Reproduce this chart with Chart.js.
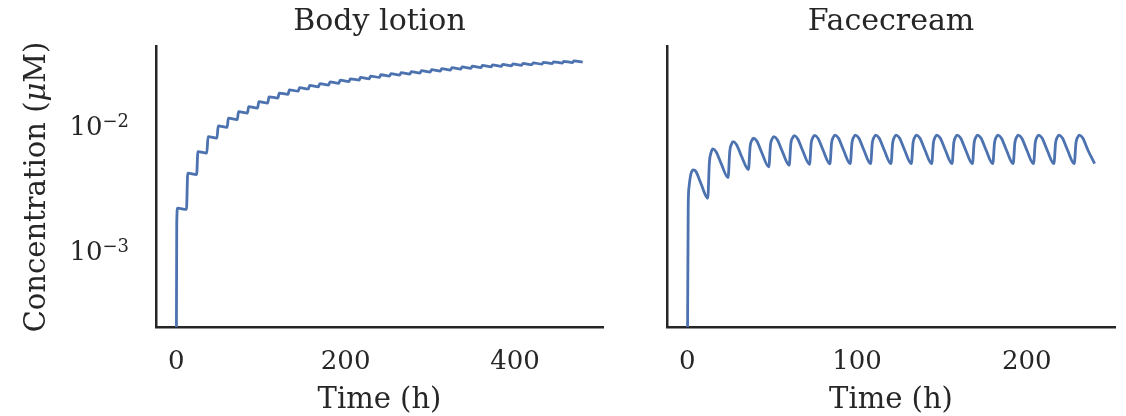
<!DOCTYPE html>
<html>
<head>
<meta charset="utf-8">
<script src="https://cdn.jsdelivr.net/npm/chart.js@4.4.0/dist/chart.umd.min.js"></script>
<style>
  html, body { margin: 0; padding: 0; background: #fff; }
  #wrap { position: relative; width: 1126px; height: 416px; }
  #wrap canvas { position: absolute; left: 0; top: 0; }
</style>
</head>
<body>
<div id="wrap">
  <canvas id="lotion" width="1126" height="416"></canvas>
  <canvas id="cream" width="1126" height="416"></canvas>
</div>
<script>
// ===== DATA =====
const bodyTime = [0, 0.5, 1.5, 12, 13.5, 24, 25.5, 36, 37.5, 48, 49.5, 60, 61.5, 72, 73.5, 84, 85.5,
  96, 97.5, 108, 109.5, 120, 121.5, 132, 133.5, 144, 145.5, 156, 157.5, 168, 169.5, 180, 181.5,
  192, 193.5, 204, 205.5, 216, 217.5, 228, 229.5, 240, 241.5, 252, 253.5, 264, 265.5, 276, 277.5,
  288, 289.5, 300, 301.5, 312, 313.5, 324, 325.5, 336, 337.5, 348, 349.5, 360, 361.5, 372, 373.5,
  384, 385.5, 396, 397.5, 408, 409.5, 420, 421.5, 432, 433.5, 444, 445.5, 456, 457.5, 468, 469.5, 480];
const bodyConc = [0.0001, 0.0016, 0.00216, 0.00211, 0.00411, 0.00401, 0.00611, 0.00596, 0.00806,
  0.00786, 0.00982, 0.00957, 0.01132, 0.01104, 0.01277, 0.01245, 0.0140, 0.01365, 0.01535,
  0.01497, 0.0168, 0.01638, 0.0180, 0.01755, 0.0191, 0.01862, 0.0199, 0.0194, 0.0207,
  0.02018, 0.0214, 0.02087, 0.0221, 0.02155, 0.0228, 0.02223, 0.0234, 0.02282, 0.0240,
  0.0234, 0.0246, 0.02399, 0.0252, 0.02457, 0.0257, 0.02506, 0.0262, 0.02555, 0.0267,
  0.02603, 0.0272, 0.02652, 0.0277, 0.02701, 0.0282, 0.0275, 0.0287, 0.02798, 0.0291,
  0.02837, 0.0295, 0.02876, 0.0299, 0.02915, 0.0302, 0.02945, 0.0305, 0.02974, 0.0308,
  0.03003, 0.0311, 0.03032, 0.0314, 0.03062, 0.0317, 0.03091, 0.0320, 0.0312, 0.0323,
  0.03149, 0.0326, 0.03179];

const faceTime = [0, 0.5, 1, 2, 3.5, 5, 8,
  12, 13, 14, 15, 17, 20, 24, 25, 26, 27, 29, 32, 36, 37, 38, 39, 41, 44,
  48, 49, 50, 51, 53, 56, 60, 61, 62, 63, 65, 68, 72, 73, 74, 75, 77, 80,
  84, 85, 86, 87, 89, 92, 96, 97, 98, 99, 101, 104, 108, 109, 110, 111, 113, 116,
  120, 121, 122, 123, 125, 128, 132, 133, 134, 135, 137, 140, 144, 145, 146, 147, 149, 152,
  156, 157, 158, 159, 161, 164, 168, 169, 170, 171, 173, 176, 180, 181, 182, 183, 185, 188,
  192, 193, 194, 195, 197, 200, 204, 205, 206, 207, 209, 212, 216, 217, 218, 219, 221, 224,
  228, 229, 230, 231, 233, 236, 240];
const faceConc = [0.0001, 0.0022, 0.0032, 0.0040, 0.00437, 0.00425, 0.0034,
  0.00259, 0.00507, 0.00603, 0.00643, 0.00608, 0.00488,
  0.00379, 0.00618, 0.00702, 0.00735, 0.00695, 0.00557,
  0.0044, 0.00674, 0.00753, 0.00783, 0.00741, 0.00594,
  0.00462, 0.00697, 0.00775, 0.00806, 0.00762, 0.00612,
  0.00476, 0.00713, 0.00789, 0.0082, 0.00776, 0.00622,
  0.00484, 0.00718, 0.00795, 0.00826, 0.00781, 0.00627,
  0.00488, 0.0072, 0.00798, 0.0083, 0.00785, 0.0063,
  0.0049, 0.0072, 0.00798, 0.0083, 0.00785, 0.0063,
  0.0049, 0.0072, 0.00798, 0.0083, 0.00785, 0.0063,
  0.0049, 0.0072, 0.00798, 0.0083, 0.00785, 0.0063,
  0.0049, 0.0072, 0.00798, 0.0083, 0.00785, 0.0063,
  0.0049, 0.0072, 0.00798, 0.0083, 0.00785, 0.0063,
  0.0049, 0.0072, 0.00798, 0.0083, 0.00785, 0.0063,
  0.0049, 0.0072, 0.00798, 0.0083, 0.00785, 0.0063,
  0.0049, 0.0072, 0.00798, 0.0083, 0.00785, 0.0063,
  0.0049, 0.0072, 0.00798, 0.0083, 0.00785, 0.0063,
  0.0049, 0.0072, 0.00798, 0.0083, 0.00785, 0.0063,
  0.0049, 0.0072, 0.00798, 0.0083, 0.00785, 0.0063,
  0.0049, 0.0072, 0.00798, 0.0083, 0.00785, 0.0063,
  0.0049];

const yTicks = [0.001, 0.01];
const yTickExp = ['\u22123', '\u22122'];
const bodyXTicks = [0, 200, 400];
const faceXTicks = [0, 100, 200];

// ===== STYLE =====
const FONT = "'DejaVu Serif', serif";
const INK = '#262626';
const LINE = '#4c72b0';
const Y_MIN = 2.42e-4, Y_MAX = 0.0428;

// y label with italic mu + 10^n tick labels with real superscripts
const yAxisTextPlugin = {
    id: 'yAxisText',
    afterDraw(chart) {
        const ctx = chart.ctx;
        const y = chart.scales.y;
        ctx.save();
        ctx.fillStyle = INK;
        ctx.textBaseline = 'alphabetic';

        // tick labels: "10" + raised exponent, right edge at x=128
        yTicks.forEach((v, i) => {
            const py = y.getPixelForValue(v);
            ctx.font = `18px ${FONT}`;
            const ew = ctx.measureText(yTickExp[i]).width;
            ctx.font = `26px ${FONT}`;
            const bw = ctx.measureText('10').width;
            const x0 = 129 - ew - bw;
            ctx.fillText('10', x0, py + 10);
            ctx.font = `18px ${FONT}`;
            ctx.fillText(yTickExp[i], x0 + bw, py + 2);
        });

        // axis title
        const parts = [
            { t: 'Concentration (', f: `29px ${FONT}` },
            { t: '\u03BC', f: `italic 29px ${FONT}` },
            { t: 'M)', f: `29px ${FONT}` }
        ];
        let total = 0;
        parts.forEach(p => { ctx.font = p.f; p.w = ctx.measureText(p.t).width; total += p.w; });
        ctx.translate(37, 187);
        ctx.rotate(-Math.PI / 2);
        ctx.textBaseline = 'middle';
        let x = -total / 2;
        parts.forEach(p => { ctx.font = p.f; ctx.fillText(p.t, x, 0); x += p.w; });
        ctx.restore();
    }
};

function panel(id, title, times, conc, xMin, xMax, xTicks, opts) {
    const points = times.map((t, i) => ({ x: t, y: conc[i] }));
    return new Chart(document.getElementById(id), {
        type: 'line',
        data: {
            datasets: [{
                data: points,
                borderColor: LINE,
                borderWidth: 2.8,
                pointRadius: 0,
                cubicInterpolationMode: 'monotone',
                fill: false
            }]
        },
        options: {
            responsive: false,
            animation: false,
            devicePixelRatio: 1,
            layout: { padding: { left: opts.padLeft, right: opts.padRight, top: 0, bottom: 0 } },
            plugins: {
                legend: { display: false },
                tooltip: { enabled: false },
                title: {
                    display: true,
                    text: title,
                    fullSize: false,
                    color: INK,
                    font: { family: FONT, size: 30, weight: 'normal', lineHeight: 1.2 },
                    padding: { top: 4.6, bottom: 5.4 }
                }
            },
            scales: {
                x: {
                    type: 'linear',
                    min: xMin, max: xMax,
                    grid: { display: false, drawTicks: false },
                    border: { display: true, color: INK, width: 2.5 },
                    afterBuildTicks: s => { s.ticks = xTicks.map(v => ({ value: v })); },
                    afterFit: s => { s.height = 89; },
                    ticks: {
                        color: INK, padding: 20,
                        font: { family: FONT, size: 26 },
                        maxRotation: 0
                    },
                    title: {
                        display: true, text: 'Time (h)', color: INK,
                        font: { family: FONT, size: 29, lineHeight: 1 },
                        padding: { top: 0, bottom: 1 }
                    }
                },
                y: {
                    type: 'logarithmic',
                    min: Y_MIN, max: Y_MAX,
                    grid: { display: false, drawTicks: false },
                    border: { display: true, color: INK, width: 2.5 },
                    afterBuildTicks: s => { s.ticks = yTicks.map(v => ({ value: v })); },
                    afterFit: s => { s.width = opts.yWidth; },
                    ticks: { display: false }
                }
            }
        },
        plugins: opts.showY ? [yAxisTextPlugin] : []
    });
}

panel('lotion', 'Body lotion', bodyTime, bodyConc, -24, 504, bodyXTicks,
    { padLeft: 0, padRight: 523, yWidth: 156, showY: true });
panel('cream', 'Facecream', faceTime, faceConc, -12, 252, faceXTicks,
    { padLeft: 0, padRight: 11, yWidth: 667, showY: false });
</script>
</body>
</html>
